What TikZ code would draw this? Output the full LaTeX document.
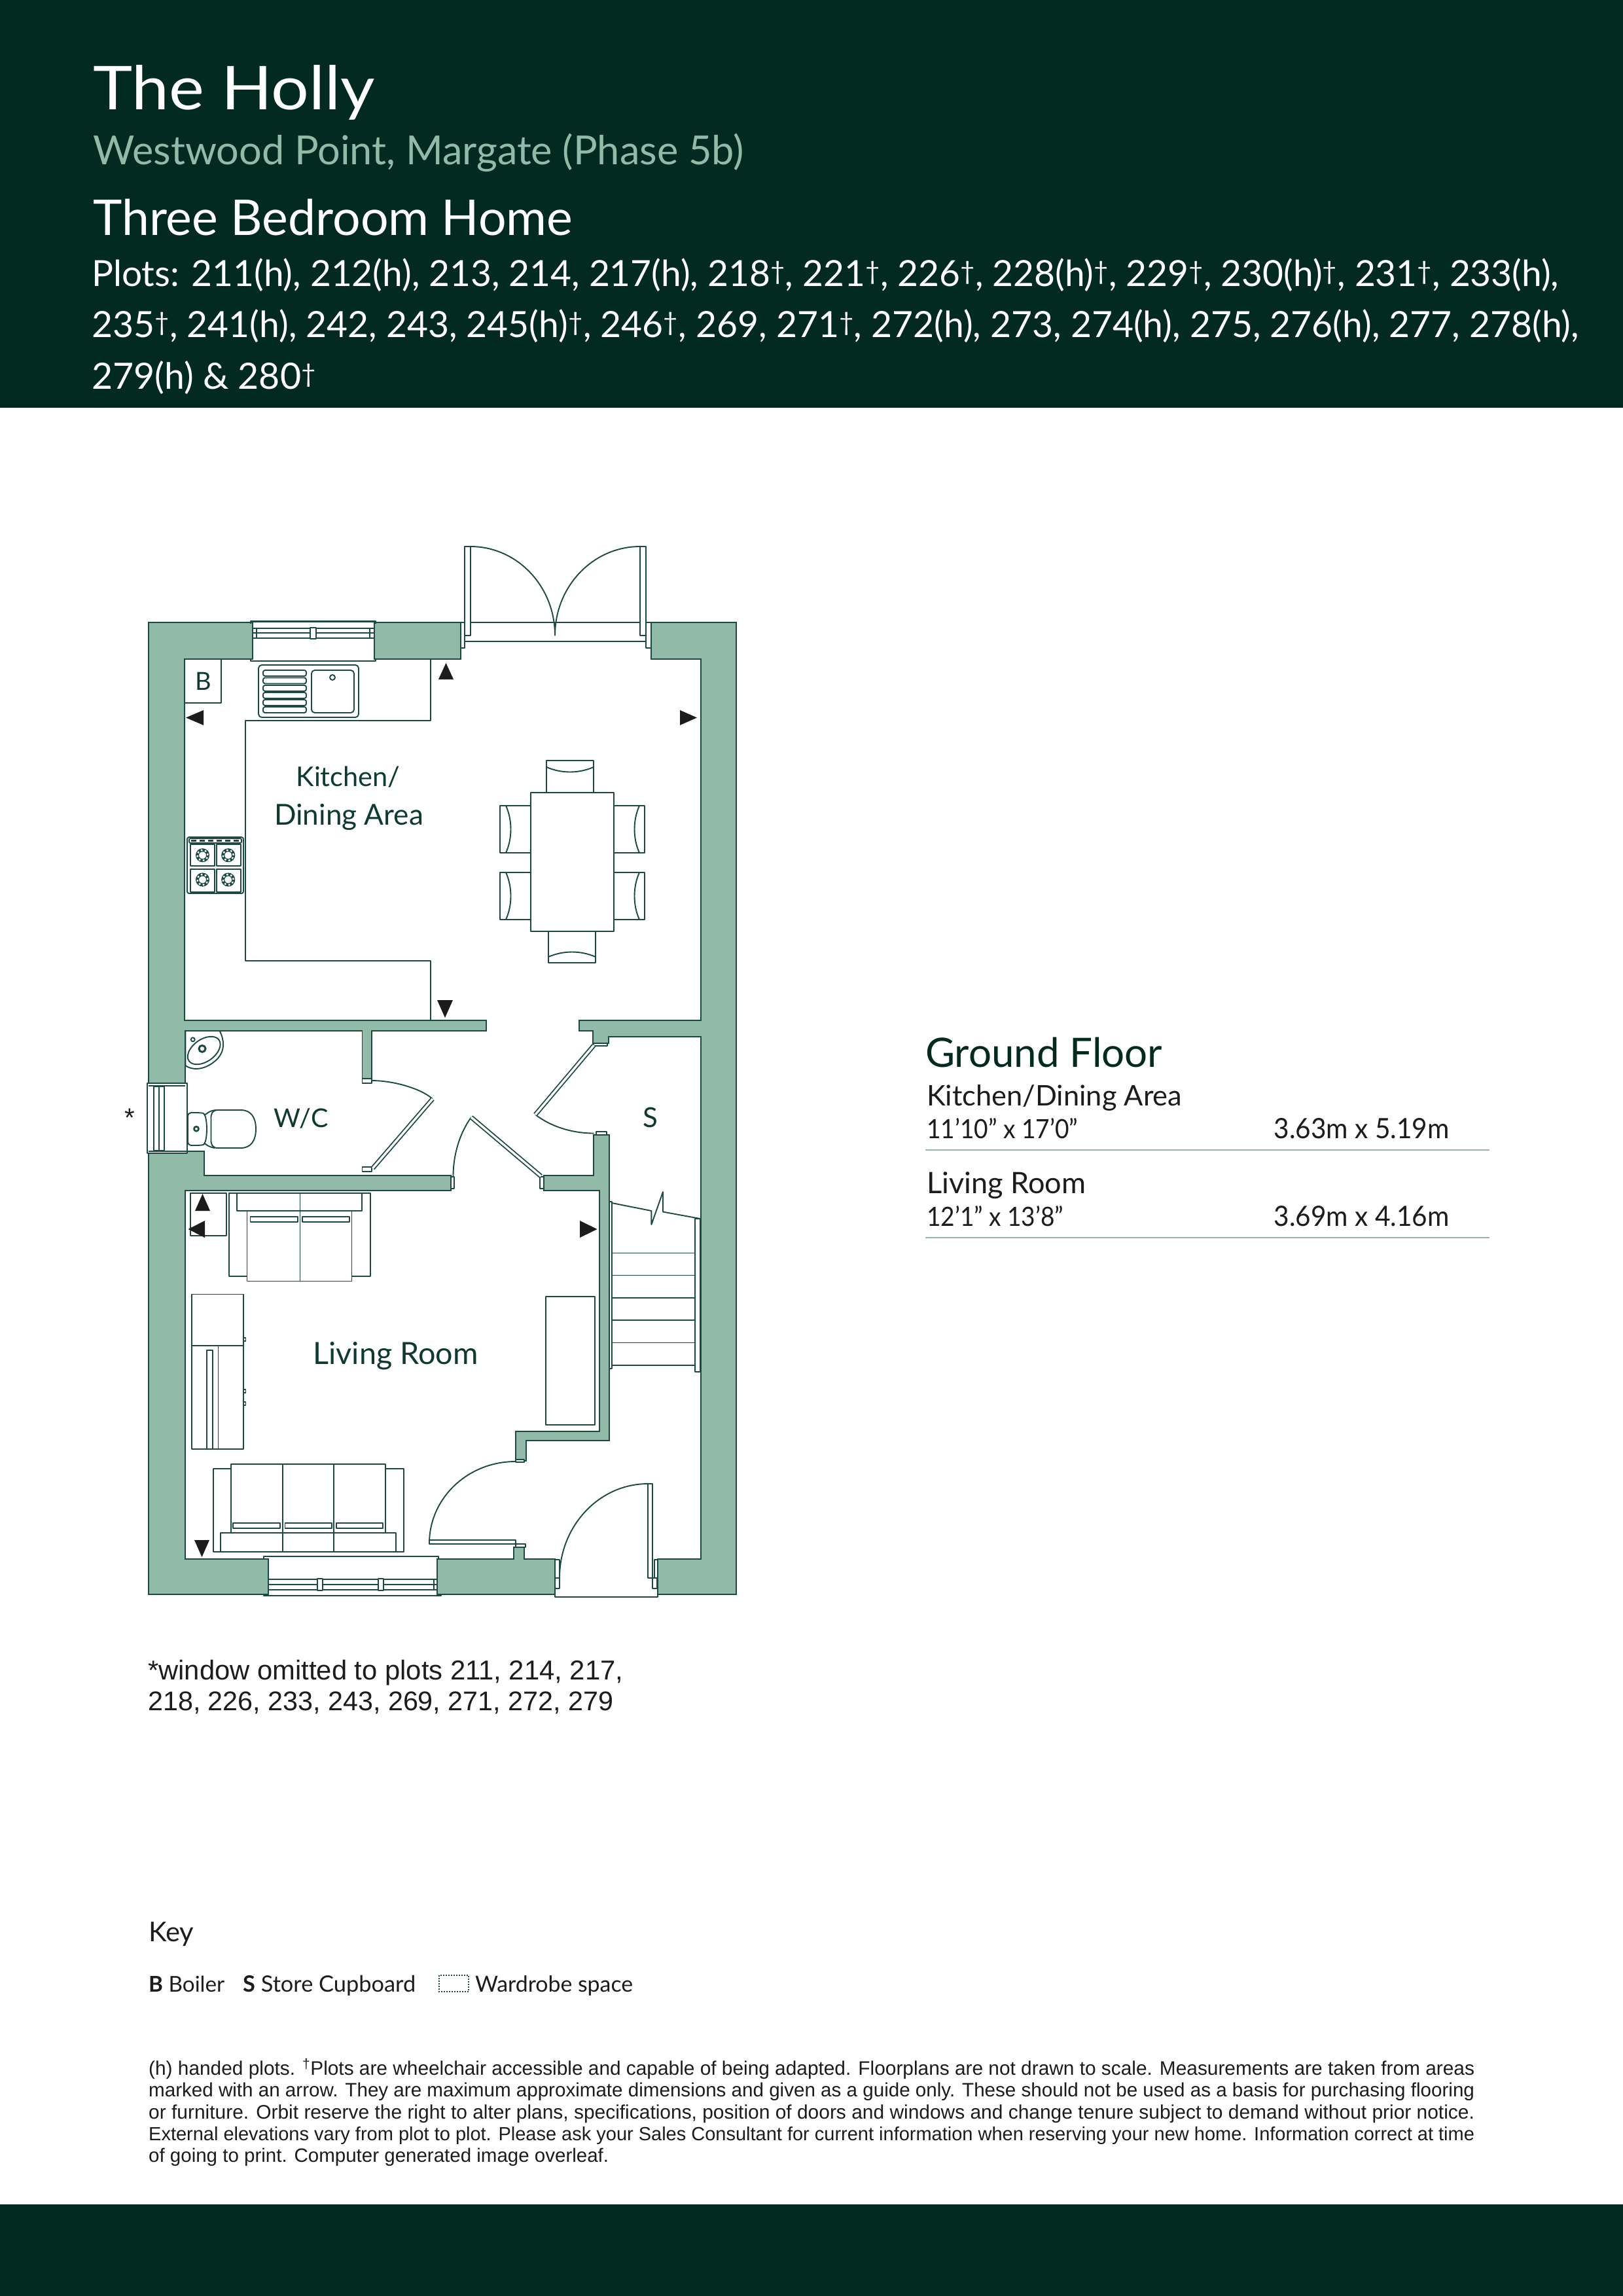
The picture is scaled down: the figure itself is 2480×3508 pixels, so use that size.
\documentclass[tikz,border=0pt]{standalone}
\usepackage{fontspec}
\usepackage{graphicx}
\usetikzlibrary{calc}
\newfontfamily\musfont{Lato}
\newfontfamily\helfont{Liberation Sans}
\definecolor{darkband}{HTML}{022A20}
\definecolor{wallgreen}{HTML}{92BAA8}
\definecolor{planline}{HTML}{1C4A43}
\definecolor{labelgreen}{HTML}{0E3A32}
\definecolor{neartxt}{HTML}{1C1C1C}
\newcommand{\fitw}[2]{\resizebox{#1pt}{!}{#2}}
\newcommand{\fitwh}[3]{\resizebox{#1pt}{#2pt}{#3}}
\newcommand{\dg}{\textsuperscript{†}}
\newcommand{\qarc}[3]{\draw[plan] #1 .. controls ($#1!0.5523!#2$) and ($#3!0.5523!#2$) .. #3;}
\newcommand{\leaf}[2]{\draw[line width=7pt,planline] #1 -- #2; \draw[line width=3.4pt,white] #1 -- #2;}
\newcommand{\jamb}[2]{\draw[plan,fill=white] #1 rectangle #2;}
\tikzset{
  plan/.style={draw=planline,line width=1.9pt,line join=round},
  wall/.style={draw=planline,fill=wallgreen,line width=1.9pt,line join=miter},
  white box/.style={plan,fill=white},
  txt/.style={inner sep=0pt,anchor=base west},
  rtxt/.style={inner sep=0pt,anchor=base},
  marker/.style={fill=neartxt,draw=none},
}
\begin{document}
\begin{tikzpicture}[x=1pt,y=-1pt]
\useasboundingbox (0,0) rectangle (2480,3508);
\fill[white] (0,0) rectangle (2480,3508);
\fill[darkband] (0,0) rectangle (2480,623);
\fill[darkband] (0,3368) rectangle (2480,3508);

% header
\node[txt,text=white,font=\musfont\fontsize{92}{100}\selectfont] (title) at (142,168) {\fitwh{431}{68}{The Holly}};
\node[txt,text=wallgreen,font=\musfont\fontsize{58}{64}\selectfont] (sub) at (142,252) {\fitw{994}{Westwood Point, Margate (Phase 5b)}};
\node[txt,text=white,font=\musfont\fontsize{70}{76}\selectfont] (home) at (142,359) {\fitw{733}{Three Bedroom Home}};
\node[txt,text=white,font=\musfont\fontsize{58}{64}\selectfont] (plotsa) at (140,437) {\fitw{2242}{Plots: 211(h), 212(h), 213, 214, 217(h), 218\dg, 221\dg, 226\dg, 228(h)\dg, 229\dg, 230(h)\dg, 231\dg, 233(h),}};
\node[txt,text=white,font=\musfont\fontsize{58}{64}\selectfont] (plotsb) at (140,515) {\fitw{2273}{235\dg, 241(h), 242, 243, 245(h)\dg, 246\dg, 269, 271\dg, 272(h), 273, 274(h), 275, 276(h), 277, 278(h),}};
\node[txt,text=white,font=\musfont\fontsize{58}{64}\selectfont] (plotsc) at (140,594) {\fitw{343}{279(h) \& 280\dg}};

% walls
\draw[wall] (227,951) -- (704,951) -- (704,1007) -- (282,1007) -- (282,1559) -- (743,1559) -- (743,1575) -- (568,1575) -- (568,1650) -- (553.5,1650) -- (553.5,1575) -- (283,1575) -- (283,1659) -- (227,1659) -- cycle;
\draw[wall] (227,1759) -- (312,1759) -- (312,1796) -- (689,1796) -- (689,1819) -- (283,1819) -- (283,2382) -- (785,2382) -- (785,2364) -- (801,2364) -- (801,2382) -- (848,2382) -- (848,2436) -- (227,2436) -- cycle;
\draw[wall] (995,951) -- (1125,951) -- (1125,2436) -- (1005,2436) -- (1005,2382) -- (1071,2382) -- (1071,1584) -- (930,1584) -- (930,1594) -- (906,1594) -- (906,1575) -- (885,1575) -- (885,1559) -- (1071,1559) -- (1071,1007) -- (995,1007) -- cycle;
\draw[wall] (831,1796) -- (907,1796) -- (907,1734) -- (931,1734) -- (931,2201) -- (804,2201) -- (804,2232) -- (788,2232) -- (788,2187) -- (916,2187) -- (916,1819) -- (831,1819) -- cycle;

% kitchen window
\fill[white] (386,951) rectangle (572,1008);
\draw[plan] (383,953) -- (383,949) -- (574,949) -- (574,953);
\draw[plan] (383,1007) -- (383,1010) -- (574,1010) -- (574,1007);
\draw[plan] (386,951) -- (386,1008) (572,951) -- (572,1008);
\draw[plan] (386,960) -- (572,960) (386,967) -- (572,967) (386,975) -- (572,975);
\draw[plan] (392,960) -- (392,975) (565,960) -- (565,975);
\draw[white box] (474,959) rectangle (483,976);

% french doors
\draw[plan] (700,951) -- (995,951);
\draw[plan] (710,980) -- (987,980);
\draw[white box] (704,951) rectangle (710,990);
\draw[white box] (987,951) rectangle (995,990);
\draw[white box] (710,835) rectangle (719,971);
\draw[white box] (978,835) rectangle (987,971);
\qarc{(719,835)}{(848,835)}{(848,971)}
\qarc{(978,835)}{(848,835)}{(848,971)}

% kitchen fittings
\draw[plan] (282,1074) -- (338,1074) -- (338,1007);
\node[rtxt,text=labelgreen,font=\musfont\fontsize{38}{40}\selectfont] (boiler) at (311,1054) {B};
\draw[plan] (658,1007) -- (658,1101) -- (375,1101) -- (375,1468) -- (658,1468) -- (658,1559);
\draw[plan,rounded corners=5pt] (395,1016) rectangle (548,1096);
\draw[plan,rounded corners=3pt] (402,1024) rectangle (468,1033);
\draw[plan,rounded corners=3pt] (402,1035.5) rectangle (468,1044.5);
\draw[plan,rounded corners=3pt] (402,1047) rectangle (468,1056);
\draw[plan,rounded corners=3pt] (402,1058) rectangle (468,1067);
\draw[plan,rounded corners=3pt] (402,1069) rectangle (468,1078);
\draw[plan,rounded corners=3pt] (402,1080) rectangle (468,1089);
\draw[plan,rounded corners=5pt] (476,1024) rectangle (541,1089);
\draw[plan] (508,1035) circle[radius=4pt];

% hob
\draw[plan,rounded corners=3pt,fill=white] (286,1279) rectangle (372,1365);
\draw[plan,rounded corners=2pt] (289,1281) rectangle (369,1288);
\draw[line width=2.4pt,planline,dash pattern=on 8pt off 5pt] (292,1284.5) -- (367,1284.5);
\draw[plan] (291,1290) rectangle (328,1323) (331,1290) rectangle (368,1323) (291,1328) rectangle (328,1363) (331,1328) rectangle (368,1363);
\foreach \hx/\hy in {309.5/1306.7,348.7/1306.7,309.5/1344,348.7/1344}{
  \draw[planline,line width=5pt] (\hx,\hy) circle[radius=8pt];
  \draw[white,line width=2.4pt,dash pattern=on 2.6pt off 3.7pt] (\hx,\hy) circle[radius=8pt];
}

% dining set
\draw[white box] (835,1162) rectangle (907,1211);
\draw[plan] (835,1172) .. controls (858,1182) and (884,1182) .. (907,1172);
\draw[white box] (838,1423) rectangle (910,1471);
\draw[plan] (838,1462) .. controls (861,1452) and (887,1452) .. (910,1462);
\foreach \cy in {1231,1333}{
  \draw[white box] (764,\cy) rectangle (811,\cy+72);
  \draw[plan] (773,\cy) .. controls (783,\cy+22) and (783,\cy+50) .. (773,\cy+72);
  \draw[white box] (938,\cy) rectangle (985,\cy+72);
  \draw[plan] (977,\cy) .. controls (967,\cy+22) and (967,\cy+50) .. (977,\cy+72);
}
\draw[white box] (811,1211) rectangle (938,1423);

% kitchen markers
\fill[marker] (681.5,1013) -- (693,1038) -- (670,1038) -- cycle;
\fill[marker] (284,1096.5) -- (311,1085) -- (311,1108) -- cycle;
\fill[marker] (1065,1096.5) -- (1039,1085) -- (1039,1108) -- cycle;
\fill[marker] (680,1555) -- (668,1528) -- (692,1528) -- cycle;

% WC window
\draw[white box] (225,1655) rectangle (286,1762);
\draw[plan] (235,1660) rectangle (251,1758);
\draw[plan] (243,1660) -- (243,1758);
\draw[wall] (227,1659) -- (283,1659);
\draw[plan] (227,1759) -- (286,1759);
\draw[plan] (286,1655) -- (286,1762);

% basin
\draw[plan] (283.3,1575) -- (335.7,1575) .. controls (343,1590) and (344,1605) .. (332,1618) .. controls (318,1632) and (298,1638) .. (283.3,1628) -- cycle;
\draw[plan] (311.7,1605) ellipse[x radius=28pt,y radius=17pt,rotate=35];
\draw[planline,line width=3pt] (309,1602.3) circle[radius=5pt];
\draw[plan] (294.7,1588.3) circle[radius=3pt];

% toilet
\draw[plan,rounded corners=5pt] (287,1700) -- (305,1700) .. controls (318,1702) and (318,1748) .. (305,1750) -- (287,1750) -- cycle;
\draw[plan] (312,1704) .. controls (316,1702) and (319,1697) .. (330,1696);
\draw[plan] (312,1746) .. controls (316,1750) and (319,1752) .. (328,1754);
\draw[plan] (333,1696) -- (368,1696) .. controls (384,1696) and (391,1708) .. (391,1725) .. controls (391,1742) and (384,1754) .. (368,1754) -- (333,1754) .. controls (324,1754) and (322,1748) .. (322.5,1740) -- (322.5,1710) .. controls (322,1702) and (324,1696) .. (333,1696) -- cycle;
\draw[planline,line width=2.6pt] (300,1724.7) circle[radius=3.5pt];

% internal doors
\jamb{(553.5,1648)}{(568,1655)}
\jamb{(553.5,1783)}{(568,1790)}
\qarc{(568,1651)}{(630,1651)}{(661,1679)}
\leaf{(661,1679)}{(569.5,1785)}
\jamb{(689,1798)}{(694,1816)}
\jamb{(825,1798)}{(831,1816)}
\draw[plan] (692.5,1797) .. controls (692.5,1765) and (702,1732) .. (720,1707);
\leaf{(720,1707)}{(826.5,1797)}
\jamb{(907,1594)}{(928,1598)}
\jamb{(911,1729)}{(927,1734)}
\draw[plan] (907.5,1731.5) .. controls (875,1731.5) and (843,1722) .. (818,1703);
\leaf{(818,1703)}{(907.5,1597)}
\jamb{(788,2230)}{(801,2234)}
\jamb{(788,2359)}{(803,2364)}
\qarc{(656,2358)}{(656,2233)}{(787.5,2233)}
\draw[white box] (656,2353) rectangle (788,2359);

% living markers and boxes
\draw[plan] (291,1823) rectangle (346,1888);
\fill[marker] (309.5,1824) -- (321,1850) -- (298,1850) -- cycle;
\fill[marker] (287.5,1878) -- (313,1865) -- (313,1891) -- cycle;
\fill[marker] (912.5,1878) -- (886,1865) -- (886,1891) -- cycle;
\fill[marker] (308.5,2379) -- (297,2353) -- (320,2353) -- cycle;

% top sofa
\draw[plan] (350,1823) rectangle (566,1950);
\draw[plan] (362,1823) -- (362,1850) -- (553,1850) -- (553,1823);
\draw[white box] (377.5,1850) rectangle (537.5,1957.5);
\draw[plan] (458.5,1823) -- (458.5,1957.5);
\draw[plan] (382.5,1859) rectangle (455,1867);
\draw[plan] (462,1859) rectangle (534,1867);

% left unit
\draw[plan] (293,1977.5) rectangle (372,2214);
\draw[plan] (293,2056) -- (372,2056);
\draw[plan] (316,2214) -- (316,2063) -- (325,2063) -- (325,2214);
\draw[plan] (325,2056) -- (333.5,2056) -- (333.5,2214);
\draw[plan] (372,2044) rectangle (375.5,2049) (372,2123) rectangle (375.5,2128) (372,2142) rectangle (375.5,2147);

% right unit
\draw[plan] (834,1981) rectangle (909,2177);

% stairs
\draw[plan] (931,1836) rectangle (935,2091);
\draw[plan] (1062,1862) rectangle (1070,2096);
\foreach \ty in {1914.5,1948.5,1983,2017,2051.5,2086}{\draw[plan] (935,\ty) -- (1062,\ty);}
\draw[plan] (935,1838) -- (995.4,1850) -- (995.4,1871) -- (1013,1821) -- (1013,1851.5) -- (1070,1862);

% bottom sofa
\draw[plan] (326,2244) rectangle (617,2371);
\draw[white box] (353,2237) rectangle (589,2371);
\draw[white box] (336.7,2342) rectangle (605,2371);
\draw[plan] (432,2237) -- (432,2371) (510,2237) -- (510,2371);
\draw[plan] (356,2327) rectangle (428,2335) (435.5,2327) rectangle (507,2335) (514,2327) rectangle (585,2335);

% bottom window
\fill[white] (410,2381) rectangle (668,2437);
\draw[plan] (403,2382) -- (403,2378) -- (670,2378) -- (670,2382);
\draw[plan] (403,2436) -- (403,2438) -- (674,2438) -- (674,2436);
\draw[plan] (410,2381) -- (410,2437) (668,2381) -- (668,2437);
\draw[plan] (410,2413) -- (668,2413) (410,2421) -- (668,2421) (410,2429) -- (668,2429);
\draw[plan] (663,2413) -- (663,2429);
\draw[white box] (485,2412) rectangle (493,2430);
\draw[white box] (578,2412) rectangle (586,2430);

% front door
\draw[plan] (848,2427) -- (848,2440) -- (1005,2440) -- (1005,2427);
\draw[white box] (848,2383) rectangle (855,2411);
\draw[white box] (848,2411) rectangle (855,2427);
\draw[white box] (1000,2383) rectangle (1005,2411);
\draw[white box] (997,2411) rectangle (1004,2427);
\draw[white box] (990,2267) rectangle (997,2411);
\qarc{(990,2267)}{(855,2267)}{(855,2411)}

% room labels
\node[rtxt,text=labelgreen,font=\musfont\fontsize{44}{48}\selectfont] (kit) at (532,1201) {\fitw{159}{Kitchen/}};
\node[rtxt,text=labelgreen,font=\musfont\fontsize{44}{48}\selectfont] (din) at (533,1260) {\fitw{228}{Dining Area}};
\node[rtxt,text=labelgreen,font=\musfont\fontsize{42}{46}\selectfont] (wc) at (460,1722) {\fitw{83}{W/C}};
\node[rtxt,text=labelgreen,font=\musfont\fontsize{42}{46}\selectfont] (store) at (993.5,1722) {S};
\node[rtxt,text=labelgreen,font=\musfont\fontsize{44}{48}\selectfont] (liv) at (604.5,2084) {\fitw{252}{Living Room}};
\node[rtxt,text=neartxt,font=\helfont\fontsize{40}{44}\selectfont] (star) at (198,1721) {*};

% schedule
\node[txt,text=darkband,font=\musfont\fontsize{60}{64}\selectfont] (gf) at (1414,1630) {\fitw{362}{Ground Floor}};
\node[txt,text=neartxt,font=\musfont\fontsize{41}{45}\selectfont] (ra) at (1416,1689) {\fitw{390}{Kitchen/Dining Area}};
\node[txt,text=neartxt,font=\musfont\fontsize{41}{45}\selectfont] (rai) at (1416,1739) {\fitwh{231}{31}{11’10” x 17’0”}};
\node[txt,text=neartxt,font=\musfont\fontsize{41}{45}\selectfont] (ram) at (1946.5,1739) {\fitwh{268}{31}{3.63m x 5.19m}};
\draw[wallgreen,line width=2.6pt] (1414,1757) -- (2276,1757);
\node[txt,text=neartxt,font=\musfont\fontsize{41}{45}\selectfont] (rb) at (1416,1823) {\fitw{243}{Living Room}};
\node[txt,text=neartxt,font=\musfont\fontsize{41}{45}\selectfont] (rbi) at (1416,1873) {\fitwh{209}{31}{12’1” x 13’8”}};
\node[txt,text=neartxt,font=\musfont\fontsize{41}{45}\selectfont] (rbm) at (1946.5,1873) {\fitwh{268}{31}{3.69m x 4.16m}};
\draw[wallgreen,line width=2.6pt] (1414,1891) -- (2276,1891);

% note
\node[txt,text=neartxt,font=\helfont\fontsize{41}{45}\selectfont] (nta) at (226,2566) {\fitw{726}{*window omitted to plots 211, 214, 217,}};
\node[txt,text=neartxt,font=\helfont\fontsize{41}{45}\selectfont] (ntb) at (226,2613) {\fitw{711}{218, 226, 233, 243, 269, 271, 272, 279}};

% key
\node[txt,text=neartxt,font=\musfont\fontsize{44}{48}\selectfont] (key) at (227,2966) {\fitw{69}{Key}};
\node[txt,text=neartxt,font=\musfont\fontsize{34}{38}\selectfont] (kb) at (227,3043) {\fitw{116}{\textbf{B} Boiler}};
\node[txt,text=neartxt,font=\musfont\fontsize{34}{38}\selectfont] (ks) at (371,3043) {\fitw{264}{\textbf{S} Store Cupboard}};
\draw[planline,line width=1.5pt,dash pattern=on 1.6pt off 2.4pt] (671,3018) rectangle (716,3043);
\node[txt,text=neartxt,font=\musfont\fontsize{34}{38}\selectfont] (kw) at (726,3043) {\fitw{241}{Wardrobe space}};

% footnote
\node[txt,text=neartxt,font=\helfont\fontsize{29}{33}\selectfont] (fa) at (227,3170) {\fitw{2026}{(h) handed plots. \dg Plots are wheelchair accessible and capable of being adapted. Floorplans are not drawn to scale. Measurements are taken from areas}};
\node[txt,text=neartxt,font=\helfont\fontsize{29}{33}\selectfont] (fb) at (227,3203) {\fitw{2026}{marked with an arrow. They are maximum approximate dimensions and given as a guide only. These should not be used as a basis for purchasing flooring}};
\node[txt,text=neartxt,font=\helfont\fontsize{29}{33}\selectfont] (fc) at (227,3237) {\fitw{2026}{or furniture. Orbit reserve the right to alter plans, specifications, position of doors and windows and change tenure subject to demand without prior notice.}};
\node[txt,text=neartxt,font=\helfont\fontsize{29}{33}\selectfont] (fd) at (227,3270) {\fitw{2026}{External elevations vary from plot to plot. Please ask your Sales Consultant for current information when reserving your new home. Information correct at time}};
\node[txt,text=neartxt,font=\helfont\fontsize{29}{33}\selectfont] (fe) at (227,3303) {\fitw{703}{of going to print. Computer generated image overleaf.}};
\end{tikzpicture}
\end{document}
